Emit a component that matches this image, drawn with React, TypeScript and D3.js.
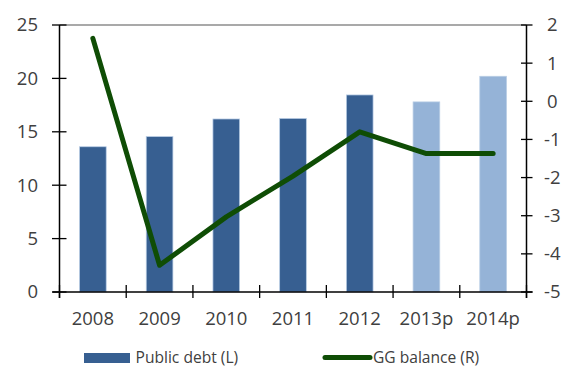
import React from "react";
import * as d3 from "d3";

const categories = ["2008", "2009", "2010", "2011", "2012", "2013p", "2014p"];
const publicDebt = [13.6, 14.55, 16.2, 16.25, 18.45, 17.8, 20.2];
const projected = [false, false, false, false, false, true, true];
const ggBalance = [1.65, -4.3, -3.03, -1.96, -0.8, -1.37, -1.37];
const leftTicks = [0, 5, 10, 15, 20, 25];
const rightTicks = [2, 1, 0, -1, -2, -3, -4, -5];
const legendLabels = ["Public debt (L)", "GG balance (R)"];

const W = 571;
const H = 367;
const M = { left: 59.5, right: 526.5, top: 25, bottom: 292 };
const FONT = "'Open Sans', sans-serif";
const TEXT = "#404040";
const DARK = "#375f91";
const LIGHT = "#95b3d7";
const GREEN = "#0f4d05";

export default function App() {
  const x = d3.scaleBand<string>().domain(categories).range([M.left, M.right]).paddingInner(0).paddingOuter(0);
  const yL = d3.scaleLinear().domain([0, 25]).range([M.bottom, M.top]);
  const yR = d3.scaleLinear().domain([-5, 2]).range([M.bottom, M.top]);
  const bw = x.bandwidth() * 0.4;
  const line = d3
    .line<number>()
    .x((_, i) => (x(categories[i]) as number) + x.bandwidth() / 2)
    .y((d) => yR(d));
  const tickXs = categories.map((c) => x(c) as number).concat([M.right]);

  return (
    <svg width={W} height={H} style={{ position: "absolute", left: 0, top: 0 }}>
      <rect x={0} y={0} width={W} height={H} fill="#fff" />
      {/* top border */}
      <line x1={M.left} x2={M.right} y1={M.top} y2={M.top} stroke="#8c8c8c" strokeWidth={1.5} />
      {/* bars */}
      {publicDebt.map((v, i) => {
        const cx = (x(categories[i]) as number) + x.bandwidth() / 2;
        return (
          <rect
            key={i}
            x={cx - bw / 2}
            y={yL(v)}
            width={bw}
            height={yL(0) - yL(v)}
            fill={projected[i] ? LIGHT : DARK}
            stroke="#b9cde5"
            strokeWidth={0.75}
          />
        );
      })}
      {/* line */}
      <path d={line(ggBalance) || ""} fill="none" stroke={GREEN} strokeWidth={5} strokeLinejoin="round" strokeLinecap="round" />
      {/* left axis */}
      <line x1={M.left} x2={M.left} y1={M.top} y2={M.bottom + 6} stroke="#000" strokeWidth={1.5} />
      {leftTicks.map((t) => (
        <g key={t}>
          <line x1={M.left - 7.5} x2={M.left + 7} y1={yL(t)} y2={yL(t)} stroke="#000" strokeWidth={1.3} />
          <text x={38} y={yL(t)} dy="0.35em" textAnchor="end" fontFamily={FONT} fontSize={18.5} fill={TEXT}>
            {t}
          </text>
        </g>
      ))}
      {/* right axis */}
      <line x1={M.right} x2={M.right} y1={M.top} y2={M.bottom + 6} stroke="#000" strokeWidth={1.5} />
      {rightTicks.map((t) => (
        <g key={t}>
          <line x1={M.right - 5.5} x2={M.right + 6} y1={yR(t)} y2={yR(t)} stroke="#000" strokeWidth={1.3} />
          <text x={t < 0 ? 544 : 547} y={yR(t)} dy="0.35em" textAnchor="start" fontFamily={FONT} fontSize={18.5} fill={TEXT}>
            {t < 0 ? "-" + Math.abs(t) : t}
          </text>
        </g>
      ))}
      {/* bottom axis */}
      <line x1={M.left - 7} x2={M.right + 6} y1={M.bottom} y2={M.bottom} stroke="#000" strokeWidth={1.5} />
      {tickXs.map((tx, i) => (
        <line key={i} x1={tx} x2={tx} y1={M.bottom - 7} y2={M.bottom + 6} stroke="#000" strokeWidth={1.3} />
      ))}
      {categories.map((c) => (
        <text
          key={c}
          x={(x(c) as number) + x.bandwidth() / 2}
          y={318.5}
          dy="0.35em"
          textAnchor="middle"
          fontFamily={FONT}
          fontSize={18.5}
          fill={TEXT}
        >
          {c}
        </text>
      ))}
      {/* legend */}
      <rect x={84} y={353} width={46} height={10} fill={DARK} />
      <text x={135.5} y={357.5} dy="0.35em" fontFamily={FONT} fontSize={15.6} fill={TEXT}>
        {legendLabels[0]}
      </text>
      <line x1={325} x2={370} y1={357.5} y2={357.5} stroke={GREEN} strokeWidth={5} strokeLinecap="round" />
      <text x={373} y={357.5} dy="0.35em" fontFamily={FONT} fontSize={15.6} fill={TEXT}>
        {legendLabels[1]}
      </text>
    </svg>
  );
}
